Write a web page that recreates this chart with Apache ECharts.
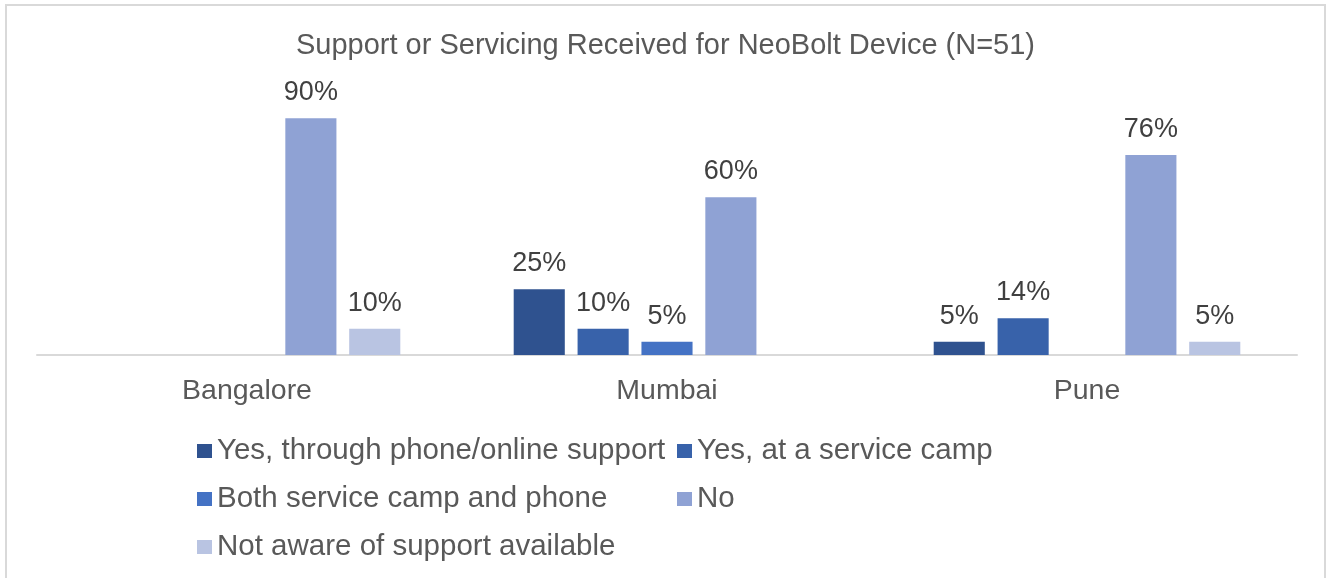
<!DOCTYPE html>
<html>
<head>
<meta charset="utf-8">
<style>
  html, body { margin: 0; padding: 0; background: #ffffff; }
  #chart { width: 1331px; height: 578px; }
</style>
<script src="https://cdn.jsdelivr.net/npm/echarts@6/dist/echarts.min.js"></script>
</head>
<body>
<div id="chart"></div>
<script>
// Cities surveyed
const cities = ['Bangalore', 'Mumbai', 'Pune'];

// Share of respondents (%) per response; '-' means no bar
const phoneOnline   = ['-', 25, 5];
const serviceCamp   = ['-', 10, 14];
const bothCampPhone = ['-', 5, '-'];
const noSupport     = [90, 60, 76];
const notAware      = [10, '-', 5];

const seriesNames = [
  'Yes, through phone/online support',
  'Yes, at a service camp',
  'Both service camp and phone',
  'No',
  'Not aware of support available'
];
const seriesValues = [phoneOnline, serviceCamp, bothCampPhone, noSupport, notAware];
const seriesColors = ['#2F528F', '#3862AA', '#4472C4', '#8FA2D4', '#B9C4E2'];

const fontFamily = 'Arial, "Liberation Sans", sans-serif';

const chart = echarts.init(document.getElementById('chart'), null, { renderer: 'canvas' });

chart.setOption({
  backgroundColor: '#ffffff',
  animation: false,
  title: {
    text: 'Support or Servicing Received for NeoBolt Device (N=51)',
    left: 'center',
    top: 31,
    padding: 0,
    textStyle: { fontFamily, fontSize: 29, fontWeight: 'normal', color: '#595959' }
  },
  graphic: [{
    type: 'rect',
    shape: { x: 6, y: 5, width: 1319, height: 620 },
    style: { fill: 'none', stroke: '#D9D9D9', lineWidth: 2 },
    silent: true
  }],
  legend: {
    left: 197,
    top: 432,
    width: 960,
    padding: 0,
    itemWidth: 15,
    itemHeight: 14,
    itemGap: 10,
    icon: 'rect',
    textStyle: {
      fontFamily, fontSize: 29.5, color: '#595959',
      width: 450, lineHeight: 38, overflow: 'none'
    },
    data: seriesNames
  },
  grid: { left: 37, right: 34, top: 92, bottom: 223, containLabel: false },
  xAxis: {
    type: 'category',
    data: cities,
    axisLine: { lineStyle: { color: '#D9D9D9', width: 2 } },
    axisTick: { show: false },
    axisLabel: { fontFamily, fontSize: 28.5, color: '#595959', margin: 22 }
  },
  yAxis: {
    type: 'value',
    min: 0,
    max: 100,
    show: false,
    splitLine: { show: false }
  },
  series: seriesNames.map((name, i) => ({
    name,
    type: 'bar',
    data: seriesValues[i],
    barGap: '25%',
    barCategoryGap: '27%',
    itemStyle: { color: seriesColors[i] },
    label: {
      show: true,
      position: 'top',
      distance: 12,
      formatter: '{c}%',
      fontFamily, fontSize: 27, color: '#404040'
    }
  }))
});
</script>
</body>
</html>
